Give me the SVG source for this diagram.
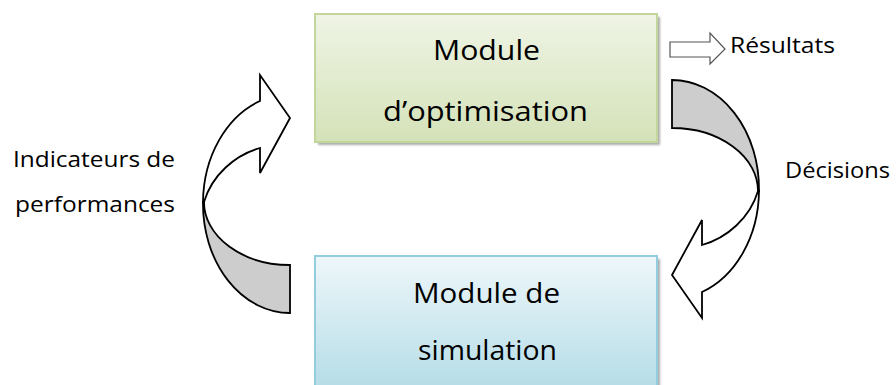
<svg xmlns="http://www.w3.org/2000/svg" width="896" height="385" viewBox="0 0 896 385">
<style>
.t{font-family:"Open Sans","Liberation Sans",sans-serif;fill:#000}
.big{font-size:27px}
.lbl{font-size:21.5px}
.shape{stroke:#000;stroke-width:1.8;stroke-linejoin:miter}
</style>
<defs>
<linearGradient id="gGreen" x1="0" y1="0" x2="0" y2="1">
<stop offset="0" stop-color="#eff4e5"/>
<stop offset="1" stop-color="#d4e2b8"/>
</linearGradient>
<linearGradient id="gBlue" x1="0" y1="0" x2="0" y2="1">
<stop offset="0" stop-color="#eef7fa"/>
<stop offset="1" stop-color="#b2dbe6"/>
</linearGradient>
<filter id="blur" x="-10%" y="-10%" width="120%" height="120%">
<feGaussianBlur stdDeviation="1.2"/>
</filter>
<g id="curvedArrow">
<path class="shape" fill="#fff" d="M203,202 A87 109 0 0 1 260,101 L260,75 L290,118 L260,173 L260,148 C235,155 212,175 204,202 Z"/>
<path class="shape" fill="#cdcdcd" d="M204,202 A86 63 0 0 0 290,265 L290,313 A87 109 0 0 1 203,202 Z"/>
</g>
</defs>

<g id="connectors">
<g id="arrow-indicateurs"><use href="#curvedArrow"/></g>
<g id="arrow-decisions"><use href="#curvedArrow" transform="translate(962,393) rotate(180)"/></g>
<g id="arrow-resultats">
<path fill="#fff" stroke="#555" stroke-width="1.2" d="M670,42 L710,42 L710,33 L725,49 L710,64 L710,57 L670,57 Z"/>
</g>
</g>

<g id="node-optimisation">
<rect x="318" y="17" width="342" height="128" fill="#8a8a8a" opacity="0.7" filter="url(#blur)"/>
<rect x="315" y="14" width="342" height="128" fill="url(#gGreen)" stroke="#c3d69b" stroke-width="2"/>
<text class="t big" x="433" y="60" textLength="107" lengthAdjust="spacingAndGlyphs">Module</text>
<text class="t big" x="383" y="121" textLength="205" lengthAdjust="spacingAndGlyphs">d’optimisation</text>
</g>

<g id="node-simulation">
<rect x="318" y="259" width="342" height="140" fill="#8a8a8a" opacity="0.7" filter="url(#blur)"/>
<rect x="315" y="256" width="342" height="140" fill="url(#gBlue)" stroke="#93cddd" stroke-width="2"/>
<text class="t big" x="413" y="303" textLength="147" lengthAdjust="spacingAndGlyphs">Module de</text>
<text class="t big" x="418" y="360" textLength="139" lengthAdjust="spacingAndGlyphs">simulation</text>
</g>

<g id="labels">
<text class="t lbl" x="730" y="53" textLength="105" lengthAdjust="spacingAndGlyphs">Résultats</text>
<text class="t lbl" x="785" y="178" textLength="105" lengthAdjust="spacingAndGlyphs">Décisions</text>
<text class="t lbl" x="13" y="167" textLength="162" lengthAdjust="spacingAndGlyphs">Indicateurs de</text>
<text class="t lbl" x="15" y="212" textLength="160" lengthAdjust="spacingAndGlyphs">performances</text>
</g>
</svg>
